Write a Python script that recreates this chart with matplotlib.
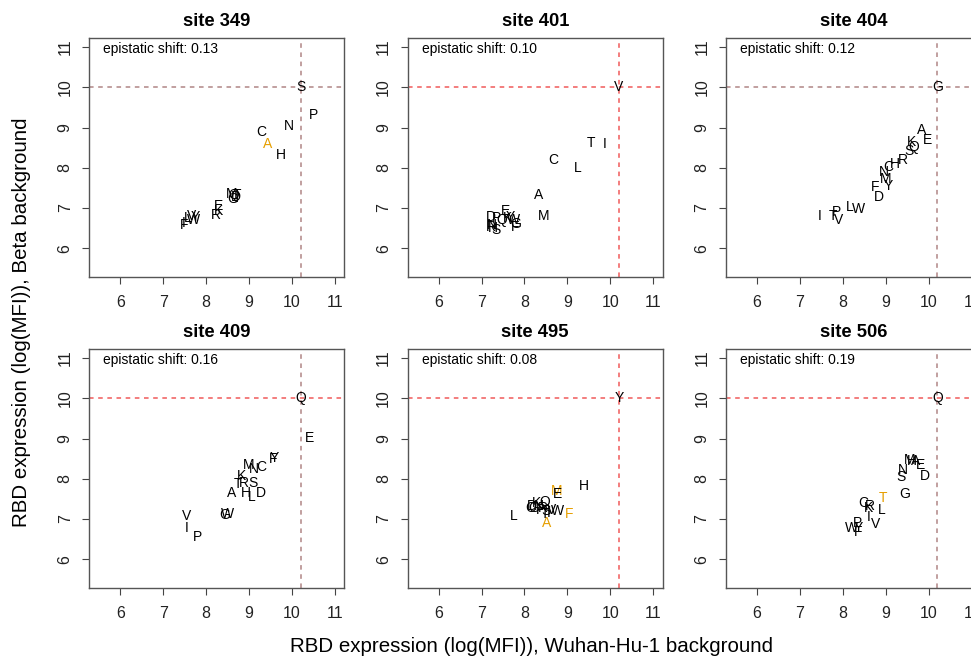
import matplotlib
matplotlib.use("Agg")
import matplotlib.pyplot as plt

plt.rcParams['font.family'] = ['Liberation Sans', 'DejaVu Sans']

sites = [349, 401, 404, 409, 495, 506]
shifts = ["0.13", "0.10", "0.12", "0.16", "0.08", "0.19"]
wt_x = 10.2
wt_y = 10.0

# mutant letters with Wuhan-Hu-1 (x) and Beta (y) expression
aa_349 = ["S", "P", "N", "C", "A", "H", "F", "I", "L", "V", "W", "Y", "E", "K", "R", "M", "Q", "T", "G", "D"]
x_349 = [10.2, 10.50, 9.94, 9.28, 9.44, 9.74, 7.50, 7.47, 7.58, 7.66, 7.71, 7.74, 8.29, 8.29, 8.24, 8.59, 8.65, 8.73, 8.61, 8.69]
y_349 = [10.0, 9.30, 9.05, 8.88, 8.60, 8.32, 6.57, 6.63, 6.76, 6.80, 6.69, 6.78, 7.05, 6.93, 6.82, 7.34, 7.31, 7.33, 7.23, 7.26]

aa_401 = ["V", "T", "I", "C", "L", "A", "M", "E", "D", "P", "Q", "K", "Y", "W", "G", "F", "R", "H", "S", "N"]
x_401 = [10.2, 9.55, 9.87, 8.68, 9.24, 8.32, 8.44, 7.56, 7.21, 7.35, 7.48, 7.60, 7.68, 7.75, 7.79, 7.79, 7.21, 7.27, 7.33, 7.25]
y_401 = [10.0, 8.61, 8.60, 8.18, 7.98, 7.31, 6.80, 6.92, 6.78, 6.74, 6.69, 6.74, 6.78, 6.69, 6.61, 6.53, 6.53, 6.50, 6.46, 6.57]

aa_404 = ["G", "A", "E", "K", "Q", "S", "R", "H", "C", "N", "M", "Y", "F", "D", "L", "W", "P", "T", "V", "I"]
x_404 = [10.2, 9.84, 9.96, 9.59, 9.66, 9.53, 9.40, 9.22, 9.05, 8.95, 8.99, 9.05, 8.76, 8.83, 8.17, 8.37, 7.85, 7.78, 7.90, 7.46]
y_404 = [10.0, 8.95, 8.68, 8.65, 8.51, 8.41, 8.20, 8.10, 8.02, 7.89, 7.71, 7.54, 7.52, 7.27, 7.02, 6.98, 6.90, 6.79, 6.69, 6.79]

aa_409 = ["Q", "E", "Y", "F", "M", "N", "C", "K", "R", "T", "S", "A", "H", "L", "D", "G", "W", "V", "I", "P"]
x_409 = [10.2, 10.42, 9.60, 9.57, 9.00, 9.12, 9.28, 8.82, 8.89, 8.75, 9.10, 8.60, 8.93, 9.06, 9.28, 8.44, 8.50, 7.54, 7.55, 7.81]
y_409 = [10.0, 9.01, 8.51, 8.49, 8.35, 8.24, 8.28, 8.06, 7.90, 7.86, 7.90, 7.64, 7.64, 7.55, 7.65, 7.09, 7.12, 7.06, 6.78, 6.55]

aa_495 = ["Y", "H", "M", "E", "F", "Q", "W", "L", "A", "C", "G", "D", "K", "N", "R", "P", "S", "T", "V", "I"]
x_495 = [10.2, 9.38, 8.75, 8.78, 9.03, 8.47, 8.76, 7.75, 8.51, 8.13, 8.22, 8.18, 8.28, 8.34, 8.44, 8.37, 8.51, 8.47, 8.62, 8.57]
y_495 = [10.0, 7.81, 7.69, 7.61, 7.11, 7.41, 7.19, 7.07, 6.90, 7.26, 7.26, 7.31, 7.40, 7.31, 7.27, 7.23, 7.19, 7.11, 7.21, 7.15]

aa_506 = ["Q", "M", "H", "A", "E", "N", "S", "D", "G", "T", "L", "C", "R", "K", "I", "V", "W", "P", "Y", "F"]
x_506 = [10.2, 9.55, 9.61, 9.69, 9.80, 9.40, 9.36, 9.90, 9.43, 8.94, 8.91, 8.48, 8.63, 8.60, 8.61, 8.77, 8.19, 8.34, 8.37, 8.36]
y_506 = [10.0, 8.47, 8.45, 8.44, 8.35, 8.22, 8.03, 8.07, 7.62, 7.51, 7.23, 7.40, 7.33, 7.28, 7.05, 6.87, 6.78, 6.89, 6.78, 6.68]

orange_349 = ["A"]
orange_401 = []
orange_404 = []
orange_409 = []
orange_495 = ["M", "F", "A"]
orange_506 = ["T"]

red = "#F05A5A"
grey = "#B08585"
hline_col = [grey, red, grey, red, red, red]
vline_col = [grey, red, grey, grey, red, grey]

all_aa = [aa_349, aa_401, aa_404, aa_409, aa_495, aa_506]
all_x = [x_349, x_401, x_404, x_409, x_495, x_506]
all_y = [y_349, y_401, y_404, y_409, y_495, y_506]
all_orange = [orange_349, orange_401, orange_404, orange_409, orange_495, orange_506]

W, H = 971, 659
fig = plt.figure(figsize=(W / 100, H / 100), dpi=100)

col_left = [89.3, 407.7, 726.1]
row_top = [38.3, 349.3]
pw, ph = 255, 238.7

for i in range(6):
    r, c = i // 3, i % 3
    ax = fig.add_axes([col_left[c] / W, 1 - (row_top[r] + ph) / H, pw / W, ph / H])
    ax.set_xlim(5.28, 11.22)
    ax.set_ylim(5.28, 11.22)
    ax.axhline(wt_y, color=hline_col[i], lw=1.1, dashes=(3, 3), zorder=1)
    ax.axvline(wt_x, color=vline_col[i], lw=1.1, dashes=(3, 3), zorder=1)
    for a, xv, yv in zip(all_aa[i], all_x[i], all_y[i]):
        col = "#E69F00" if a in all_orange[i] else "black"
        ax.text(xv, yv, a, ha="center", va="center", fontsize=10, color=col, zorder=3)
    ax.text(0.055, 0.955, "epistatic shift: " + shifts[i], transform=ax.transAxes,
            ha="left", va="center", fontsize=10)
    ax.text(0.5, 1 + 16.5 / ph, "site %d" % sites[i], transform=ax.transAxes,
            ha="center", va="center", fontsize=13.2, fontweight="bold")
    ax.set_xticks(range(6, 12))
    ax.set_yticks(range(6, 12))
    ax.tick_params(length=5, width=0.8, color="#444", labelsize=11.5, labelcolor="#222")
    ax.tick_params(axis="x", pad=8)
    ax.tick_params(axis="y", pad=7)
    for lab in ax.get_yticklabels():
        lab.set_rotation(90)
        lab.set_va("center")
    for s in ax.spines.values():
        s.set_color("#555")
        s.set_linewidth(1.0)

fig.text(531 / W, 1 - 647 / H, "RBD expression (log(MFI)), Wuhan-Hu-1 background",
         ha="center", va="center", fontsize=14.8)
fig.text(22 / W, 1 - 322 / H, "RBD expression (log(MFI)), Beta background",
         ha="center", va="center", rotation=90, fontsize=14.8)

fig.savefig("out.png", dpi=100)
